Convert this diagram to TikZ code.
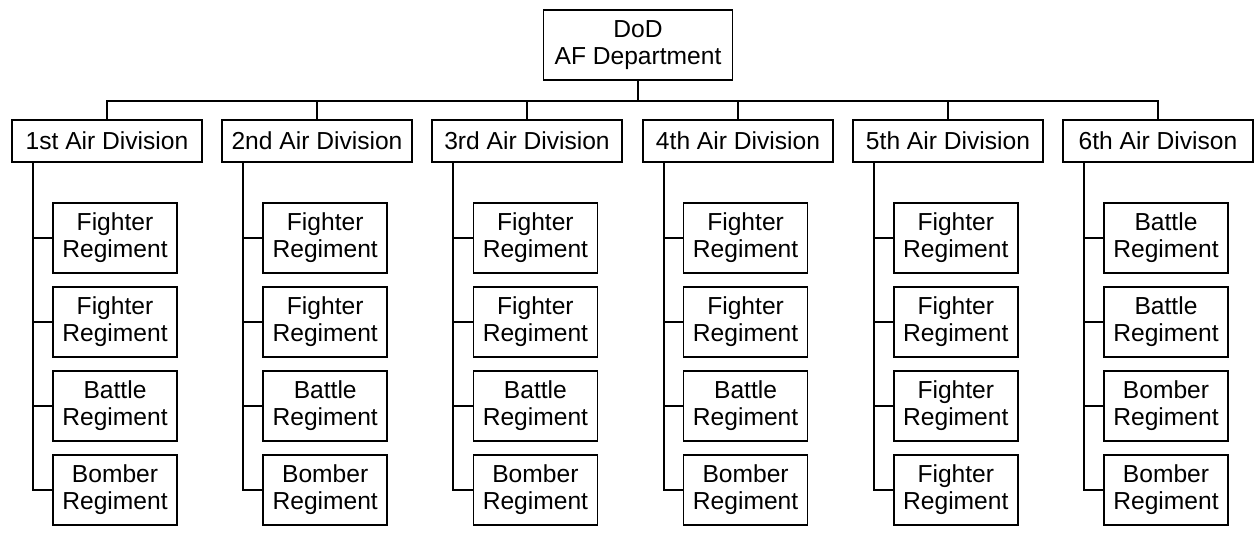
\documentclass[tikz,border=0pt]{standalone}
\usepackage{fontspec}
\setmainfont{Liberation Sans}
\usetikzlibrary{positioning}

\begin{document}
\begin{tikzpicture}[x=0.02cm,y=-0.02cm,
    box/.style={draw,line width=0.9pt,inner sep=1pt,align=center,font=\fontsize{14}{15.5}\selectfont},
    hq/.style={box,minimum width=3.78cm,minimum height=1.4cm},
    division/.style={box,minimum width=3.8cm,minimum height=0.84cm},
    regiment/.style={box,minimum width=2.48cm,minimum height=1.4cm},
    wire/.style={line width=1.1pt}]
	 \useasboundingbox (0,0) rectangle (1254,533);

	 \node at (638,45) [hq] (dod) {DoD\\AF Department};
	 \coordinate (bus) at (638,101);

	 \node at (107,141) [division] (div1) {1st Air Division};
	 \node at (317,141) [division] (div2) {2nd Air Division};
	 \node at (527,141) [division] (div3) {3rd Air Division};
	 \node at (738,141) [division] (div4) {4th Air Division};
	 \node at (948,141) [division] (div5) {5th Air Division};
	 \node at (1158,141) [division] (div6) {6th Air Divison};

	 \draw[wire] (dod) -- (bus);
	 \foreach \i in {1,...,6}
	   \draw[wire] (bus) -| (div\i);

	 % regiments under each division
	 \foreach \i/\a/\b/\c/\d in {1/Fighter/Fighter/Battle/Bomber,
	                            2/Fighter/Fighter/Battle/Bomber,
	                            3/Fighter/Fighter/Battle/Bomber,
	                            4/Fighter/Fighter/Battle/Bomber,
	                            5/Fighter/Fighter/Fighter/Fighter,
	                            6/Battle/Battle/Bomber/Bomber} {
	   \pgfmathsetmacro{\cx}{115+210.2*(\i-1)}
	   \node at (\cx,238) [regiment] (r\i-1) {\a\\Regiment};
	   \node at (\cx,322) [regiment] (r\i-2) {\b\\Regiment};
	   \node at (\cx,406) [regiment] (r\i-3) {\c\\Regiment};
	   \node at (\cx,490) [regiment] (r\i-4) {\d\\Regiment};
	   \coordinate (t\i) at ([xshift=-1.48cm]div\i.south);
	   \draw[wire] (t\i) |- (r\i-4);
	   \foreach \k in {1,2,3}
	     \draw[wire] (r\i-\k.west) -- (r\i-\k.west -| t\i);
	 }

\end{tikzpicture}
\end{document}
